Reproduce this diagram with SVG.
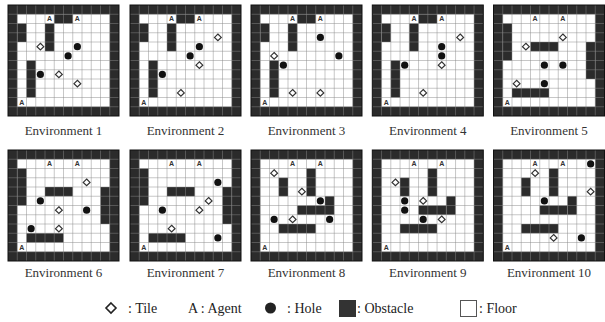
<svg xmlns="http://www.w3.org/2000/svg" xmlns:xlink="http://www.w3.org/1999/xlink" width="605" height="322" viewBox="0 0 605 322">
<style>
.ob{fill:#2b2b2b}
.gl{fill:none;stroke:#8a8a8a;stroke-opacity:.6;stroke-width:.8}
.fr{fill:none;stroke:#111;stroke-width:1}
.tl{fill:#fff;stroke:#333;stroke-width:1.2}
.hl{fill:#111}
.ag{font-family:"Liberation Sans",Arial,sans-serif;font-size:7px;font-weight:bold;fill:#333;text-anchor:middle}
.lb{font-family:"Liberation Serif","Times New Roman",serif;font-size:13px;fill:#333;text-anchor:middle}
.lg{font-family:"Liberation Serif","Times New Roman",serif;font-size:14px;fill:#222}
</style>
<defs>
<g id="base">
<rect x="0" y="0" width="111" height="111" fill="#fff"/>
<path class="ob" fill-rule="evenodd" d="M0 0H111V111H0Z M9.25 9.25V101.75H101.75V9.25Z"/>
</g>
<g id="grid">
<path class="gl" d="M9.25 0V111M18.5 0V111M27.75 0V111M37 0V111M46.25 0V111M55.5 0V111M64.75 0V111M74 0V111M83.25 0V111M92.5 0V111M101.75 0V111M0 9.25H111M0 18.5H111M0 27.75H111M0 37H111M0 46.25H111M0 55.5H111M0 64.75H111M0 74H111M0 83.25H111M0 92.5H111M0 101.75H111"/>
<rect class="fr" x="0" y="0" width="111" height="111"/>
</g>
<g id="agents">
<text class="ag" x="41.625" y="16.4">A</text>
<text class="ag" x="69.375" y="16.4">A</text>
<text class="ag" x="13.875" y="99.6">A</text>
</g>
<g id="obsA">
<rect class="ob" x="46.25" y="9.25" width="18.5" height="9.25"/>
<rect class="ob" x="9.25" y="18.5" width="9.25" height="18.5"/>
<rect class="ob" x="37" y="18.5" width="9.25" height="27.75"/>
<rect class="ob" x="18.5" y="55.5" width="9.25" height="37"/>
</g>
<g id="obsB">
<rect class="ob" x="9.25" y="18.5" width="9.25" height="37"/>
<rect class="ob" x="37" y="37" width="27.75" height="9.25"/>
<rect class="ob" x="92.5" y="37" width="9.25" height="37"/>
<rect class="ob" x="18.5" y="83.25" width="37" height="9.25"/>
</g>
<g id="obsC">
<rect class="ob" x="27.75" y="27.75" width="9.25" height="18.5"/>
<rect class="ob" x="55.5" y="18.5" width="9.25" height="27.75"/>
<rect class="ob" x="74" y="46.25" width="9.25" height="18.5"/>
<rect class="ob" x="46.25" y="55.5" width="27.75" height="9.25"/>
<rect class="ob" x="27.75" y="74" width="37" height="9.25"/>
</g>
<path id="tile" class="tl" d="M0 -3.4L3.4 0L0 3.4L-3.4 0Z"/>
<circle id="hole" class="hl" cx="0" cy="0" r="3.6"/>
</defs>

<g id="env1" transform="translate(8,5)">
<use href="#base"/><use href="#obsA"/><use href="#grid"/>
<use href="#tile" x="32.375" y="41.625"/><use href="#tile" x="50.875" y="69.375"/><use href="#tile" x="69.375" y="78.625"/>
<use href="#hole" x="69.375" y="41.625"/><use href="#hole" x="60.125" y="50.875"/><use href="#hole" x="32.375" y="69.375"/>
<use href="#agents"/>
</g>
<g id="env2" transform="translate(130,5)">
<use href="#base"/><use href="#obsA"/><use href="#grid"/>
<use href="#tile" x="87.875" y="32.375"/><use href="#tile" x="69.375" y="60.125"/><use href="#tile" x="50.875" y="87.875"/>
<use href="#hole" x="69.375" y="41.625"/><use href="#hole" x="60.125" y="50.875"/><use href="#hole" x="32.375" y="69.375"/>
<use href="#agents"/>
</g>
<g id="env3" transform="translate(251,5)">
<use href="#base"/><use href="#obsA"/><use href="#grid"/>
<use href="#tile" x="23.125" y="50.875"/><use href="#tile" x="41.625" y="87.875"/><use href="#tile" x="69.375" y="87.875"/>
<use href="#hole" x="69.375" y="32.375"/><use href="#hole" x="87.875" y="50.875"/><use href="#hole" x="32.375" y="60.125"/>
<use href="#agents"/>
</g>
<g id="env4" transform="translate(372.3,5)">
<use href="#base"/><use href="#obsA"/><use href="#grid"/>
<use href="#tile" x="87.875" y="32.375"/><use href="#tile" x="69.375" y="60.125"/><use href="#tile" x="50.875" y="87.875"/>
<use href="#hole" x="69.375" y="41.625"/><use href="#hole" x="69.375" y="50.875"/><use href="#hole" x="32.375" y="60.125"/>
<use href="#agents"/>
</g>
<g id="env5" transform="translate(493.5,5)">
<use href="#base"/><use href="#obsB"/><use href="#grid"/>
<use href="#tile" x="69.375" y="32.375"/><use href="#tile" x="32.375" y="41.625"/><use href="#tile" x="23.125" y="78.625"/>
<use href="#hole" x="50.875" y="60.125"/><use href="#hole" x="69.375" y="60.125"/><use href="#hole" x="50.875" y="78.625"/>
<use href="#agents"/>
</g>
<g id="env6" transform="translate(8,150)">
<use href="#base"/><use href="#obsB"/><use href="#grid"/>
<use href="#tile" x="78.625" y="32.375"/><use href="#tile" x="50.875" y="60.125"/><use href="#tile" x="50.875" y="78.625"/>
<use href="#hole" x="32.375" y="50.875"/><use href="#hole" x="78.625" y="60.125"/><use href="#hole" x="23.125" y="78.625"/>
<use href="#agents"/>
</g>
<g id="env7" transform="translate(130,150)">
<use href="#base"/><use href="#obsB"/><use href="#grid"/>
<use href="#tile" x="78.625" y="50.875"/><use href="#tile" x="69.375" y="60.125"/><use href="#tile" x="41.625" y="78.625"/>
<use href="#hole" x="87.875" y="32.375"/><use href="#hole" x="32.375" y="60.125"/><use href="#hole" x="87.875" y="87.875"/>
<use href="#agents"/>
</g>
<g id="env8" transform="translate(251,150)">
<use href="#base"/><use href="#obsC"/><use href="#grid"/>
<use href="#tile" x="23.125" y="23.125"/><use href="#tile" x="50.875" y="41.625"/><use href="#tile" x="41.625" y="69.375"/>
<use href="#hole" x="69.375" y="50.875"/><use href="#hole" x="23.125" y="69.375"/><use href="#hole" x="78.625" y="69.375"/>
<use href="#agents"/>
</g>
<g id="env9" transform="translate(372.3,150)">
<use href="#base"/><use href="#obsC"/><use href="#grid"/>
<use href="#tile" x="23.125" y="32.375"/><use href="#tile" x="50.875" y="50.875"/><use href="#tile" x="69.375" y="69.375"/>
<use href="#hole" x="32.375" y="50.875"/><use href="#hole" x="32.375" y="60.125"/><use href="#hole" x="50.875" y="69.375"/>
<use href="#agents"/>
</g>
<g id="env10" transform="translate(493.5,150)">
<use href="#base"/><use href="#obsC"/><use href="#grid"/>
<use href="#tile" x="41.625" y="23.125"/><use href="#tile" x="97.125" y="41.625"/><use href="#tile" x="60.125" y="87.875"/>
<use href="#hole" x="97.125" y="13.875"/><use href="#hole" x="50.875" y="50.875"/><use href="#hole" x="87.875" y="87.875"/>
<use href="#agents"/>
</g>

<g id="labels">
<text class="lb" x="63.5" y="135">Environment 1</text>
<text class="lb" x="185.5" y="135">Environment 2</text>
<text class="lb" x="306.5" y="135">Environment 3</text>
<text class="lb" x="427.8" y="135">Environment 4</text>
<text class="lb" x="549" y="135">Environment 5</text>
<text class="lb" x="63.5" y="277">Environment 6</text>
<text class="lb" x="185.5" y="277">Environment 7</text>
<text class="lb" x="306.5" y="277">Environment 8</text>
<text class="lb" x="427.8" y="277">Environment 9</text>
<text class="lb" x="549" y="277">Environment 10</text>
</g>

<g id="legend">
<path d="M111 303L116 308L111 313L106 308Z" fill="#fff" stroke="#222" stroke-width="1.6"/>
<text class="lg" x="128" y="313">: Tile</text>
<text class="lg" x="188" y="313">A : Agent</text>
<circle cx="270.5" cy="308" r="5.5" fill="#222"/>
<text class="lg" x="287" y="313">: Hole</text>
<rect x="339" y="300" width="17" height="17" fill="#333"/>
<text class="lg" x="357" y="313">: Obstacle</text>
<rect x="460.5" y="300.5" width="16" height="16" fill="#fff" stroke="#555" stroke-width="1"/>
<text class="lg" x="479" y="313">: Floor</text>
</g>
</svg>
